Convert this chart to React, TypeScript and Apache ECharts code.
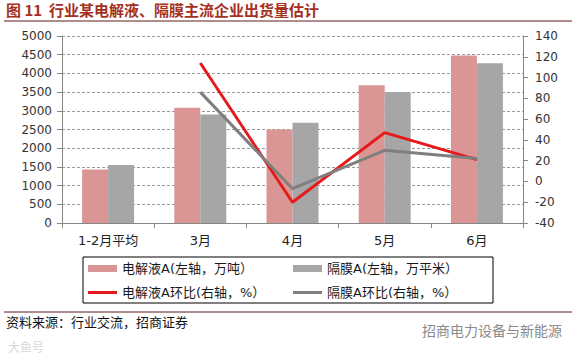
import React, { useEffect, useRef } from "react";
import * as echarts from "echarts";

const categories = ["1-2月平均", "3月", "4月", "5月", "6月"];
const electrolyte = [1430, 3080, 2500, 3680, 4480];
const separator = [1550, 2900, 2680, 3500, 4270];
const electrolyteMoM = [null, 114, -20, 47, 21];
const separatorMoM = [null, 86, -7, 30, 22];
const leftTicks = { min: 0, max: 5000, interval: 500 };
const rightTicks = { min: -40, max: 140, interval: 20 };

const names = [
  "电解液A(左轴，万吨）",
  "隔膜A(左轴，万平米）",
  "电解液A环比(右轴，%）",
  "隔膜A环比(右轴，%）",
];

const FONT = "'DejaVu Sans', 'Noto Sans CJK SC', sans-serif";
const CJK = "'Noto Sans CJK SC', sans-serif";

export default function App() {
  const ref = useRef<HTMLDivElement>(null);
  useEffect(() => {
    if (!ref.current) return;
    const chart = echarts.init(ref.current, null, { renderer: "svg" });
    const legendText = { fontFamily: FONT, fontSize: 13, color: "#1a1a1a" };
    const mkLegend = (name: string, left: number, top: number, isLine: boolean) => ({
      data: [name],
      left,
      top,
      orient: "horizontal",
      itemWidth: 29,
      itemHeight: isLine ? 3 : 7,
      itemGap: 4,
      icon: "rect",
      textStyle: legendText,
      padding: 0,
      selectedMode: false,
    });
    chart.setOption({
      animation: false,
      backgroundColor: "#ffffff",
      grid: { left: 62, right: 56, top: 36, bottom: 134, containLabel: false },
      xAxis: {
        type: "category",
        data: categories,
        axisLine: { lineStyle: { color: "#868686", width: 1 } },
        axisTick: { show: true, length: 5, lineStyle: { color: "#868686" } },
        axisLabel: { fontFamily: FONT, fontSize: 13, color: "#222", margin: 11 },
      },
      yAxis: [
        {
          type: "value",
          ...leftTicks,
          axisLine: { show: true, lineStyle: { color: "#868686" } },
          axisTick: { show: true, length: 5, lineStyle: { color: "#868686" } },
          axisLabel: {
            fontFamily: FONT,
            fontSize: 12,
            color: "#333",
            margin: 10,
            formatter: (v: number) => String(v),
          },
          splitLine: { show: true, lineStyle: { color: "#9a9a9a", type: [3, 2], width: 1 } },
        },
        {
          type: "value",
          ...rightTicks,
          position: "right",
          axisLine: { show: true, lineStyle: { color: "#868686" } },
          axisTick: { show: true, length: 5, lineStyle: { color: "#868686" } },
          axisLabel: {
            fontFamily: FONT,
            fontSize: 12,
            color: "#333",
            margin: 12,
            formatter: (v: number) => String(v),
          },
          splitLine: { show: false },
        },
      ],
      legend: [
        mkLegend(names[0], 88, 262, false),
        mkLegend(names[1], 293, 262, false),
        mkLegend(names[2], 88, 286, true),
        mkLegend(names[3], 293, 286, true),
      ],
      series: [
        {
          name: names[0],
          type: "bar",
          data: electrolyte,
          barWidth: 26,
          barGap: "0%",
          itemStyle: { color: "#D99694" },
        },
        {
          name: names[1],
          type: "bar",
          data: separator,
          barWidth: 26,
          barGap: "0%",
          itemStyle: { color: "#A6A6A6" },
        },
        {
          name: names[2],
          type: "line",
          yAxisIndex: 1,
          data: electrolyteMoM,
          symbol: "none",
          connectNulls: false,
          lineStyle: { color: "#E41A1C", width: 3 },
          itemStyle: { color: "#E41A1C" },
        },
        {
          name: names[3],
          type: "line",
          yAxisIndex: 1,
          data: separatorMoM,
          symbol: "none",
          lineStyle: { color: "#7F7F7F", width: 3 },
          itemStyle: { color: "#7F7F7F" },
        },
      ],
      graphic: [
        {
          type: "text",
          left: 6,
          top: 2,
          style: {
            text: "图 11  行业某电解液、隔膜主流企业出货量估计",
            fontFamily: CJK,
            fontSize: 15,
            fontWeight: "bold",
            fill: "#A5301E",
          },
        },
        {
          type: "line",
          shape: { x1: 4, y1: 21, x2: 572, y2: 21 },
          style: { stroke: "#5E1A1A", lineWidth: 1 },
        },
        {
          type: "rect",
          shape: { x: 83, y: 257, width: 410, height: 46 },
          style: { fill: "none", stroke: "#000", lineWidth: 1 },
        },
        {
          type: "line",
          shape: { x1: 4, y1: 312, x2: 572, y2: 312 },
          style: { stroke: "#5E1A1A", lineWidth: 1 },
        },
        {
          type: "text",
          left: 6,
          top: 315,
          style: {
            text: "资料来源：行业交流，招商证券",
            fontFamily: CJK,
            fontSize: 13,
            fill: "#111",
          },
        },
        {
          type: "text",
          left: 422,
          top: 323,
          style: {
            text: "招商电力设备与新能源",
            fontFamily: CJK,
            fontSize: 14,
            fill: "#8a8a8a",
          },
        },
        {
          type: "text",
          left: 8,
          top: 340,
          style: {
            text: "大鱼号",
            fontFamily: CJK,
            fontSize: 12,
            fill: "#d8d8d8",
          },
        },
      ],
    });
    return () => chart.dispose();
  }, []);
  return (
    <div
      ref={ref}
      style={{ position: "absolute", left: 0, top: 0, width: 579, height: 357 }}
    />
  );
}
